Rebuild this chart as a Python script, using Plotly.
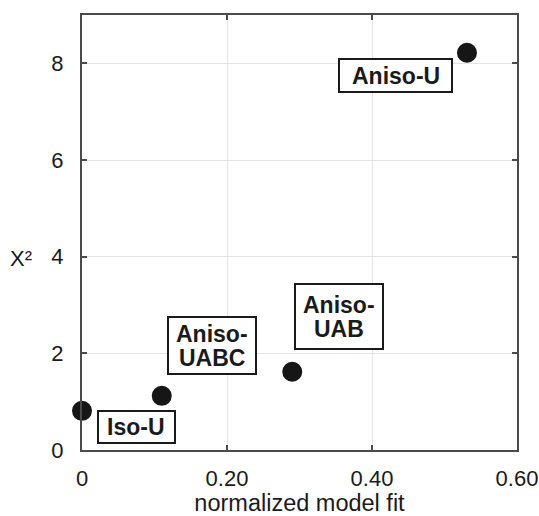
import plotly.graph_objects as go

# Model variants: normalized model fit vs. chi-squared
models = ["Iso-U", "Aniso-\nUABC", "Aniso-\nUAB", "Aniso-U"]
fit = [0.0, 0.11, 0.29, 0.531]
chi2 = [0.81, 1.12, 1.62, 8.22]

x_ticks = [0, 0.2, 0.4, 0.6]
x_ticktext = ["0", "0.20", "0.40", "0.60"]
y_ticks = [0, 2, 4, 6, 8]

# label box placement relative to each point (pixels) and box size
label_shift = [(54, -16), (50, 50), (47, 55), (-71, -23)]
label_size = [(75, 30), (86, 55), (86, 63), (111, 31)]
LINE_GAP = 24  # baseline spacing for two-line labels

W, H = 539, 516
ML, MR, MT, MB = 82, 22, 15, 66
AX = "#4a4a4a"
INK = "#1a1a1a"
FONT = "Liberation Sans, Arial, Helvetica, sans-serif"

fig = go.Figure()
fig.add_trace(go.Scatter(
    x=fit, y=chi2, mode="markers",
    marker=dict(size=20, color="#161616"),
    cliponaxis=False, showlegend=False,
))

for name, x, y, (dx, dy), (bw, bh) in zip(models, fit, chi2, label_shift, label_size):
    # framed white box
    fig.add_annotation(
        x=x, y=y, xref="x", yref="y", text=" ",
        showarrow=False, xshift=dx, yshift=dy,
        width=bw, height=bh,
        bgcolor="white", bordercolor=INK, borderwidth=2, borderpad=0,
        font=dict(family=FONT, size=23, color=INK),
    )
    # label text, one annotation per line for tight line spacing
    lines = name.split("\n")
    n = len(lines)
    for i, line in enumerate(lines):
        off = ((n - 1) / 2 - i) * LINE_GAP
        fig.add_annotation(
            x=x, y=y, xref="x", yref="y", text=f"<b>{line}</b>",
            showarrow=False, xshift=dx, yshift=dy + off,
            xanchor="center", yanchor="middle",
            font=dict(family=FONT, size=23, color=INK),
        )

# horizontal y-axis title
fig.add_annotation(
    x=-(ML - 21) / (W - ML - MR), y=(H - MB - 258) / (H - MT - MB),
    xref="paper", yref="paper", text="X²", showarrow=False,
    xanchor="center", yanchor="middle",
    font=dict(family=FONT, size=22, color=INK),
)

axis_common = dict(
    showline=True, linecolor=AX, linewidth=2, mirror="ticks",
    ticks="inside", ticklen=5, tickwidth=2, tickcolor=AX,
    showgrid=True, gridcolor="#e4e4e4", gridwidth=1,
    zeroline=False, automargin=False,
    tickfont=dict(family=FONT, size=22, color=INK),
)

fig.update_layout(
    width=W, height=H,
    margin=dict(l=ML, r=MR, t=MT, b=MB),
    paper_bgcolor="white", plot_bgcolor="white",
    xaxis=dict(range=[0, 0.6], tickvals=x_ticks, ticktext=x_ticktext,
               title=dict(text="normalized model fit", standoff=12,
                          font=dict(family=FONT, size=23.5, color=INK)),
               ticklabelstandoff=8, **axis_common),
    yaxis=dict(range=[0, 9], tickvals=y_ticks, ticklabelstandoff=12,
               **axis_common),
)

fig.write_html("out.html")
